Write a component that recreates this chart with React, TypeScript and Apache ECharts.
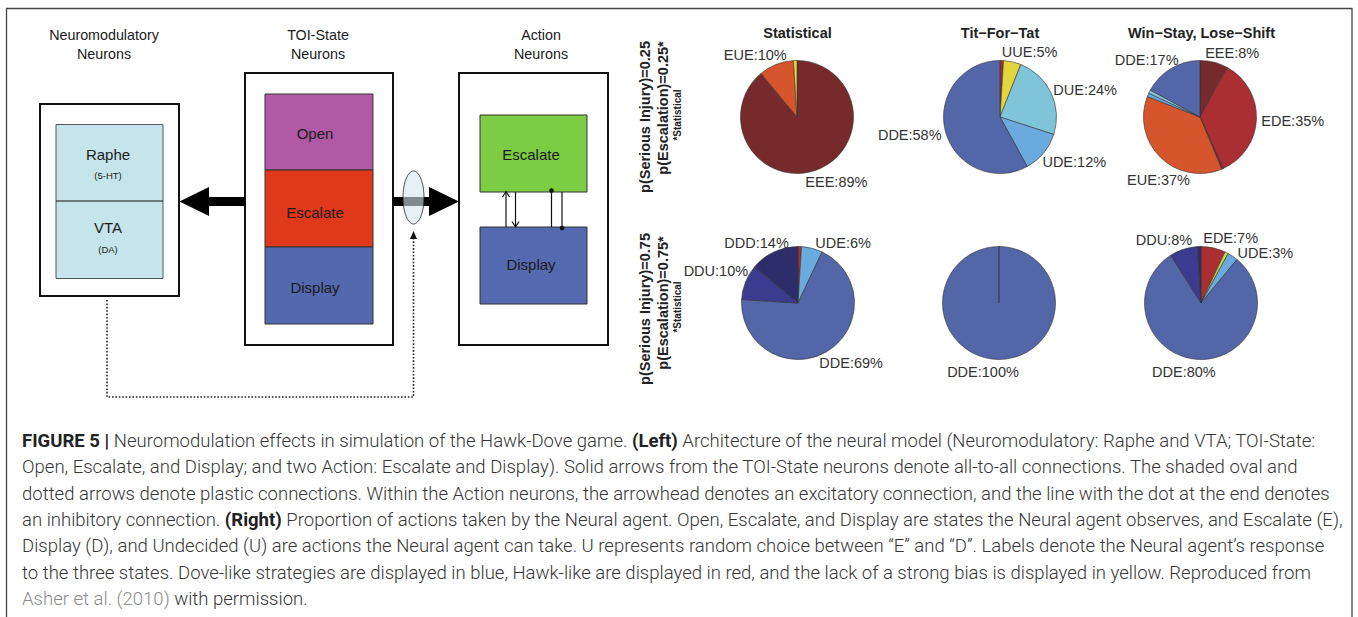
import React, { useEffect, useRef } from 'react';
import * as echarts from 'echarts';

// ---------- data ----------
const pieTitles = ['Statistical', 'Tit\u2212For\u2212Tat', 'Win\u2212Stay, Lose\u2212Shift'];
const rowLabelInjury = ['p(Serious Injury)=0.25', 'p(Serious Injury)=0.75'];
const rowLabelEscalation = ['p(Escalation)=0.25*', 'p(Escalation)=0.75*'];
const rowLabelNote = '*Statistical';

const statLowNames = ['EEE', 'EUE', 'UEU'];
const statLowValues = [89, 10, 1];
const tftLowNames = ['EDE', 'UUE', 'DUE', 'UDE', 'DDE'];
const tftLowValues = [1, 5, 24, 12, 58];
const wslsLowNames = ['EEE', 'EDE', 'EEU', 'EUE', 'UDE', 'DUE', 'DDE'];
const wslsLowValues = [8, 35, 0.5, 37, 1, 1, 17];
const statHighNames = ['EDE', 'UDE', 'DDE', 'DDU', 'DDD'];
const statHighValues = [1, 6, 69, 10, 14];
const tftHighNames = ['DDE', 'EDE'];
const tftHighValues = [100, 0];
const wslsHighNames = ['EDE', 'UUU', 'UDE', 'DDE', 'DDU', 'DDD'];
const wslsHighValues = [7, 1, 3, 80, 8, 1];

const captionLines = [
  '{b|FIGURE 5 |} Neuromodulation effects in simulation of the Hawk-Dove game. {b|(Left)} Architecture of the neural model (Neuromodulatory: Raphe and VTA; TOI-State:',
  'Open, Escalate, and Display; and two Action: Escalate and Display). Solid arrows from the TOI-State neurons denote all-to-all connections. The shaded oval and',
  'dotted arrows denote plastic connections. Within the Action neurons, the arrowhead denotes an excitatory connection, and the line with the dot at the end denotes',
  'an inhibitory connection. {b|(Right)} Proportion of actions taken by the Neural agent. Open, Escalate, and Display are states the Neural agent observes, and Escalate (E),',
  'Display (D), and Undecided (U) are actions the Neural agent can take. U represents random choice between \u201cE\u201d and \u201cD\u201d. Labels denote the Neural agent\u2019s response',
  'to the three states. Dove-like strategies are displayed in blue, Hawk-like are displayed in red, and the lack of a strong bias is displayed in yellow. Reproduced from',
  '{g|Asher et al. (2010)} with permission.',
];

// ---------- styles / layout ----------
const sliceColors: Record<string, string> = {
  EEE: '#772a2b', EDE: '#ab2f32', EEU: '#8e2527', EUE: '#d6552c',
  UUE: '#e2d63c', UEU: '#e8da38', UUU: '#c6d93c',
  DUE: '#80c4da', UDE: '#6aaadc', DDE: '#5366a8', DDU: '#3b3b90', DDD: '#2e2d6c',
};
const pieNames = [statLowNames, tftLowNames, wslsLowNames, statHighNames, tftHighNames, wslsHighNames];
const pieValues = [statLowValues, tftLowValues, wslsLowValues, statHighValues, tftHighValues, wslsHighValues];
const pieCenters = [[797, 117], [1000, 117], [1200, 117], [798, 303], [999, 303], [1201, 303]];
const pieRadius = 56.5;
const labelNudges: Record<string, number[]> = {
  '2:EUE': [27, 13], '3:DDU': [5, -9], '3:DDD': [5, 0], '3:UDE': [13, 4], '5:UDE': [7, 5], '4:DDE': [-4, 0],
};
const SANS = 'Liberation Sans, Arial, sans-serif';

function txt(x: number, y: number, text: string, fontSize: number, extra: any = {}) {
  return {
    type: 'text', x, y, silent: true,
    rotation: extra.rotation || 0,
    style: {
      text, fontSize, fontFamily: SANS, fill: extra.fill || '#1a1a1a',
      fontWeight: extra.fontWeight || 'normal',
      align: extra.align || 'center', verticalAlign: 'middle',
    },
  };
}
function box(x: number, y: number, w: number, h: number, fill: string, stroke: string, lw: number) {
  return { type: 'rect', silent: true, shape: { x, y, width: w, height: h }, style: { fill, stroke, lineWidth: lw } };
}
function ln(x1: number, y1: number, x2: number, y2: number, lw = 1.2, dash?: number[]) {
  return { type: 'line', silent: true, shape: { x1, y1, x2, y2 }, style: { stroke: '#111', lineWidth: lw, lineDash: dash } };
}

function buildGraphic() {
  const g: any[] = [];
  // outer frame
  g.push({ type: 'rect', silent: true, shape: { x: 6.5, y: 8.5, width: 1345.5, height: 640 }, style: { fill: 'none', stroke: '#444', lineWidth: 1.3 } });

  // headers
  g.push(txt(104, 35, 'Neuromodulatory', 14.3));
  g.push(txt(104, 54, 'Neurons', 14.3));
  g.push(txt(318, 35, 'TOI-State', 14.3));
  g.push(txt(318, 54, 'Neurons', 14.3));
  g.push(txt(541, 35, 'Action', 14.3));
  g.push(txt(541, 54, 'Neurons', 14.3));

  // Neuromodulatory box
  g.push(box(40, 104, 139, 192, '#fff', '#111', 2));
  g.push(box(56, 124.5, 107, 154, '#c6e5eb', '#555', 1));
  g.push(ln(56, 201, 163, 201, 1, undefined));
  g.push(txt(108, 154, 'Raphe', 15));
  g.push(txt(108, 175, '(5-HT)', 9.5));
  g.push(txt(108, 227, 'VTA', 15));
  g.push(txt(108, 249, '(DA)', 9.5));

  // TOI box
  g.push(box(245, 73, 148, 272, '#fff', '#111', 2));
  g.push(box(265, 94, 108, 76, '#b05aa6', '#333', 1));
  g.push(box(265, 170, 108, 77, '#e0381a', '#333', 1));
  g.push(box(265, 247, 108, 77, '#5468b0', '#333', 1));
  g.push(txt(315, 133, 'Open', 15));
  g.push(txt(315, 212, 'Escalate', 15));
  g.push(txt(315, 287, 'Display', 15));

  // Action box
  g.push(box(459, 73, 149, 272, '#fff', '#111', 2));
  g.push(box(480, 115, 107, 77, '#7ccc44', '#333', 1));
  g.push(box(480, 227, 107, 77, '#5569b1', '#333', 1));
  g.push(txt(531, 154, 'Escalate', 15));
  g.push(txt(531, 264, 'Display', 15));

  // thick arrows
  g.push({ type: 'polygon', silent: true, shape: { points: [[245, 197], [209, 197], [209, 187], [179.5, 201.5], [209, 216], [209, 206], [245, 206]] }, style: { fill: '#000' } });
  g.push({ type: 'polygon', silent: true, shape: { points: [[393, 197], [429, 197], [429, 187], [459, 201.5], [429, 216], [429, 206], [393, 206]] }, style: { fill: '#000' } });
  // shaded oval
  g.push({ type: 'ellipse', silent: true, shape: { cx: 413.5, cy: 197.5, rx: 10.5, ry: 26.5 }, style: { fill: 'rgba(214,232,238,0.6)', stroke: '#222', lineWidth: 0.8 } });

  // action inner connections
  g.push(ln(506, 227, 506, 192.5, 1.2));
  g.push({ type: 'polyline', silent: true, shape: { points: [[502.5, 197], [506, 191.5], [509.5, 197]] }, style: { stroke: '#111', lineWidth: 1.2, fill: 'none' } });
  g.push(ln(515.5, 192, 515.5, 226, 1.2));
  g.push({ type: 'polyline', silent: true, shape: { points: [[512, 221.5], [515.5, 227], [519, 221.5]] }, style: { stroke: '#111', lineWidth: 1.2, fill: 'none' } });
  g.push(ln(551.5, 191, 551.5, 227, 1.2));
  g.push({ type: 'circle', silent: true, shape: { cx: 551.5, cy: 190.5, r: 2.3 }, style: { fill: '#111' } });
  g.push(ln(562, 192, 562, 228, 1.2));
  g.push({ type: 'circle', silent: true, shape: { cx: 562, cy: 228, r: 2.3 }, style: { fill: '#111' } });

  // dotted plastic connection
  g.push({ type: 'polyline', silent: true, shape: { points: [[107, 300], [107, 397], [413.5, 397], [413.5, 237]] }, style: { stroke: '#222', lineWidth: 1.6, lineDash: [1.6, 1.8], fill: 'none' } });
  g.push({ type: 'polygon', silent: true, shape: { points: [[410, 239], [413.5, 231], [417, 239]] }, style: { fill: '#111' } });

  // pie titles
  const titleX = [797.5, 1000, 1201.5];
  pieTitles.forEach((t, i) => g.push(txt(titleX[i], 33, t, 14.5, { fontWeight: 'bold', fill: '#222' })));

  // row labels (rotated)
  const rowY = [[117, 108, 115], [309, 303, 307]];
  [0, 1].forEach((r) => {
    g.push(txt(645, rowY[r][0], rowLabelInjury[r], 14.5, { fontWeight: 'bold', rotation: Math.PI / 2, fill: '#222' }));
    g.push(txt(663, rowY[r][1], rowLabelEscalation[r], 14.5, { fontWeight: 'bold', rotation: Math.PI / 2, fill: '#222' }));
    g.push(txt(677, rowY[r][2], rowLabelNote, 10, { fontWeight: 'bold', rotation: Math.PI / 2, fill: '#222' }));
  });

  // caption
  const capFont = 'Roboto, Liberation Sans, Arial, sans-serif';
  const capSize = 18.55;
  captionLines.forEach((line, i) => {
    g.push({
      type: 'text', silent: true, x: 22, y: 441 + i * 26.3,
      style: {
        text: line, fontSize: capSize, fontFamily: capFont, fontWeight: 300, fill: '#363636',
        align: 'left', verticalAlign: 'middle',
        rich: {
          b: { fontSize: capSize, fontFamily: capFont, fontWeight: 'bold', fill: '#222' },
          g: { fontSize: capSize, fontFamily: capFont, fontWeight: 300, fill: '#8c8c8c' },
        },
      },
    });
  });
  return g;
}

function buildSeries() {
  return pieNames.map((names, k) => {
    const vals = pieValues[k];
    const total = vals.reduce((a, b) => a + b, 0);
    return {
      type: 'pie',
      center: pieCenters[k],
      radius: pieRadius,
      startAngle: 90,
      clockwise: true,
      avoidLabelOverlap: false,
      silent: true,
      emphasis: { disabled: true },
      label: {
        show: true, position: 'outside', fontSize: 14.5, fontFamily: SANS, color: '#333',
        formatter: (p: any) => `${p.name}:${p.value}%`,
      },
      labelLine: { show: false },
      itemStyle: { borderColor: '#333', borderWidth: 0.6 },
      labelLayout: (p: any) => {
        let before = 0;
        for (let i = 0; i < p.dataIndex; i++) before += vals[i];
        const frac = (before + vals[p.dataIndex] / 2) / total;
        const th = frac * 2 * Math.PI;
        const ux = Math.sin(th);
        const uy = -Math.cos(th);
        const [cx, cy] = pieCenters[k];
        const R = pieRadius * 1.2;
        const sg = ux > 1e-6 ? 1 : -1;
        const nd = labelNudges[`${k}:${names[p.dataIndex]}`] || [0, 0];
        return {
          x: cx + R * ux + sg * (12 + 13 * Math.abs(ux)) + nd[0],
          y: cy + R * uy + 1.5 + nd[1],
          align: 'center', verticalAlign: 'middle',
        };
      },
      data: names.map((n, i) => ({
        name: n, value: vals[i],
        itemStyle: { color: sliceColors[n] },
        label: { show: vals[i] >= 3 },
      })),
    };
  });
}

export default function App() {
  const ref = useRef<HTMLDivElement>(null);
  useEffect(() => {
    if (!ref.current) return;
    const chart = echarts.init(ref.current, null, { renderer: 'svg' });
    chart.setOption({
      animation: false,
      backgroundColor: '#ffffff',
      graphic: { elements: buildGraphic() },
      series: buildSeries(),
    });
    return () => chart.dispose();
  }, []);
  return <div ref={ref} style={{ position: 'fixed', left: 0, top: 0, width: 1358, height: 617 }} />;
}
